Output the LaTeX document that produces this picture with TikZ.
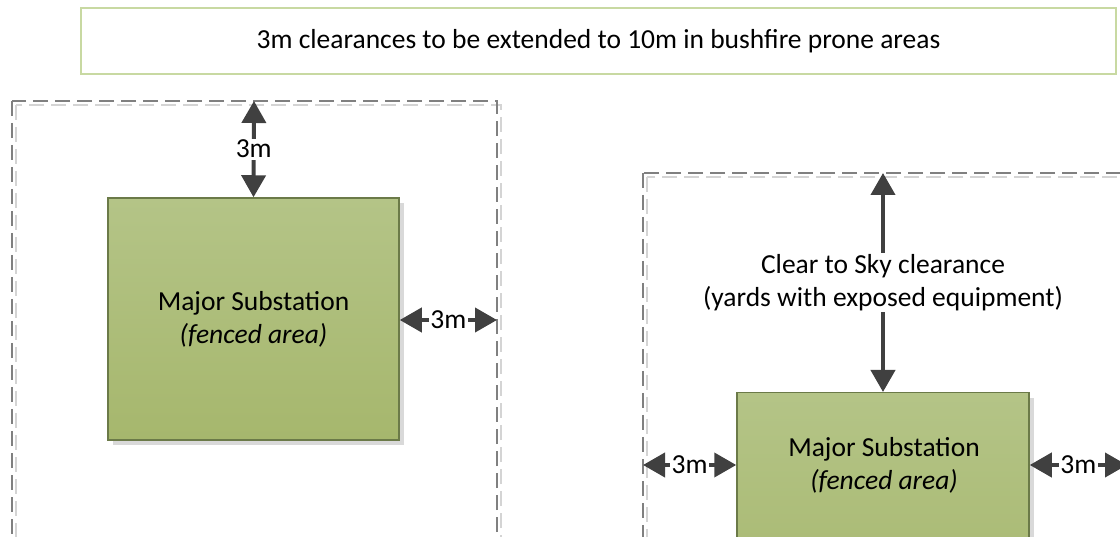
\documentclass[tikz,border=0pt]{standalone}
\usepackage{fontspec}
\setmainfont{Carlito}
\usetikzlibrary{arrows.meta,shadows}

\definecolor{arrowgrey}{HTML}{404040}
\definecolor{zoneline}{HTML}{808080}
\definecolor{zoneshade}{HTML}{D4D4D4}
\definecolor{yardtop}{HTML}{B4C487}
\definecolor{yardbottom}{HTML}{A6B76D}
\definecolor{yardedge}{HTML}{6B7A48}
\definecolor{noteedge}{HTML}{C8D9A2}

\tikzset{
  basefont/.style={font=\fontsize{27.5}{33}\selectfont},
  notebox/.style={draw=noteedge, line width=1.5pt, fill=white, basefont},
  yardbox/.style={draw=yardedge, line width=1.5pt, top color=yardtop, bottom color=yardbottom,
    align=center, basefont,
    drop shadow={shadow xshift=5pt, shadow yshift=-5pt, opacity=1, fill=black!15}},
  zone/.style={draw=zoneline, line width=1.3pt, dash pattern=on 15pt off 7pt},
  zoneshadow/.style={draw=zoneshade, line width=1.3pt, dash pattern=on 15pt off 7pt},
  dimarrow/.style={draw=arrowgrey, line width=4pt,
    {Triangle[length=22pt,width=24pt]}-{Triangle[length=22pt,width=24pt]}},
  dimlabel/.style={fill=white, inner sep=1.5pt, basefont, align=center}
}

\begin{document}
\begin{tikzpicture}[x=1pt,y=-1pt]
\useasboundingbox (0,0) rectangle (1120,537);
\clip (0,0) rectangle (1120,537);

% note across the top
\node[notebox, minimum width=1035pt, minimum height=66pt] (note) at (598.5,41)
  {3m clearances to be extended to 10m in bushfire prone areas};

% clearance zones (dashed), each with a faint offset shadow
\draw[zoneshadow] (16,105) rectangle (501,580);
\draw[zone] (12,101) rectangle (497,580);
\draw[zoneshadow] (647,177) rectangle (1150,580);
\draw[zone] (643,173) rectangle (1146,580);

% zone edges used as arrow ends
\coordinate (zoneAtop) at (254,101);
\coordinate (zoneAright) at (497,320);
\coordinate (zoneBtop) at (883,173);
\coordinate (zoneBleft) at (643,465);
\coordinate (zoneBright) at (1127,465);

% fenced yards
\node[yardbox, minimum width=291pt, minimum height=242pt] (subA) at (253.5,319)
  {Major Substation\\\textit{(fenced area)}};
\node[yardbox, minimum width=292pt, minimum height=242pt, anchor=north] (subB) at (883,392)
  {};
\node[basefont, align=center] (subBtext) at (884,465) {Major Substation\\\textit{(fenced area)}};

% clearance dimensions
\draw[dimarrow] (zoneAtop) -- (subA.north) node[midway, dimlabel] {3m};
\draw[dimarrow] (subA.east |- zoneAright) -- (zoneAright) node[midway, dimlabel] {3m};
\draw[dimarrow] (zoneBtop) -- (subB.north)
  node[midway, dimlabel] {Clear to Sky clearance\\(yards with exposed equipment)};
\draw[dimarrow] (zoneBleft) -- (subB.west |- zoneBleft) node[midway, dimlabel] {3m};
\draw[dimarrow] (subB.east |- zoneBright) -- (zoneBright) node[midway, dimlabel] {3m};
\end{tikzpicture}
\end{document}
